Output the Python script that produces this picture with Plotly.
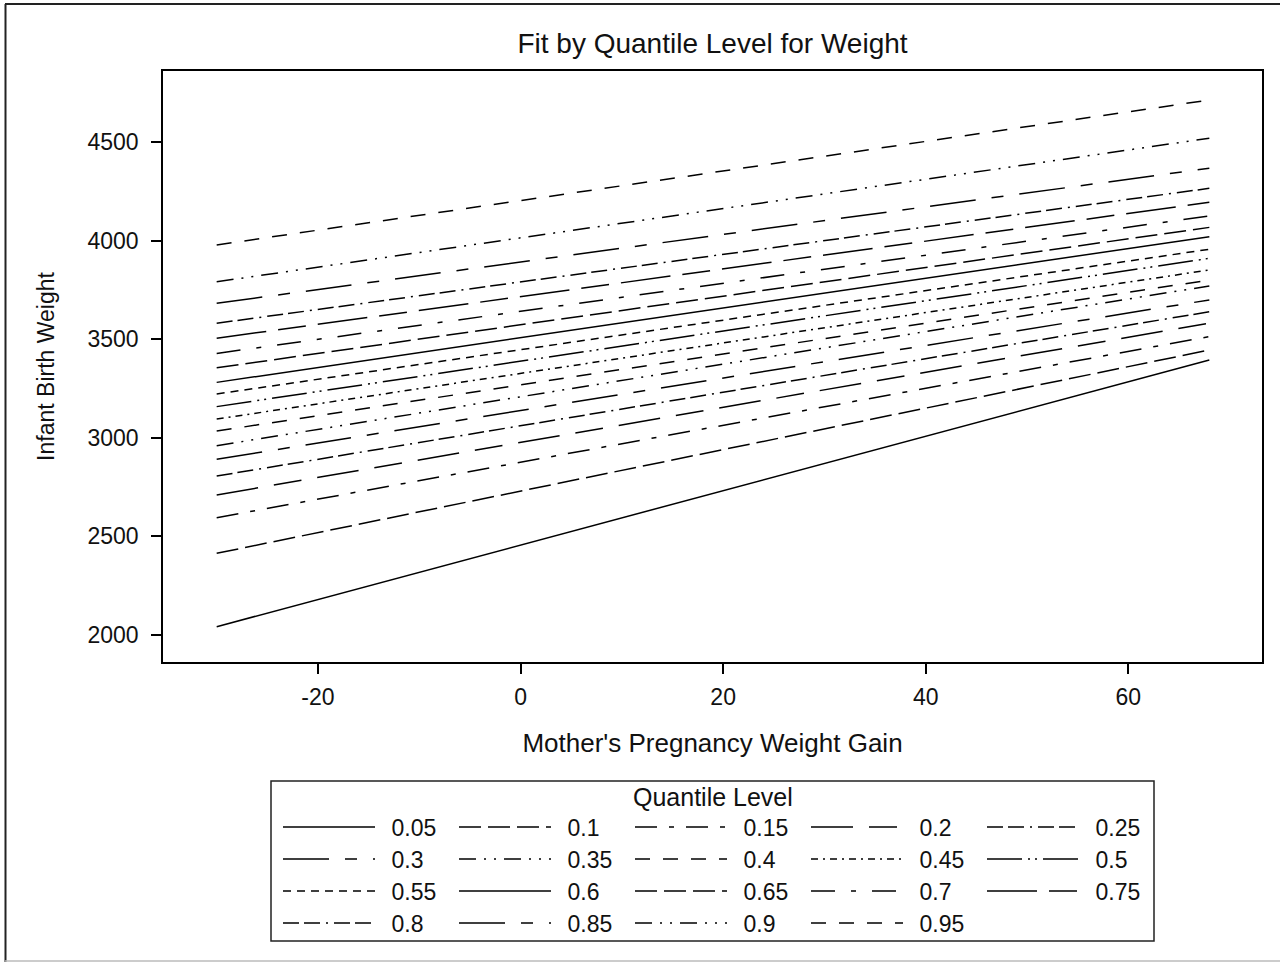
import plotly.graph_objects as go

# Quantile levels and the fitted birth weight at each end of the gain range
quantile_levels = ["0.05", "0.1", "0.15", "0.2", "0.25", "0.3", "0.35", "0.4", "0.45", "0.5",
                   "0.55", "0.6", "0.65", "0.7", "0.75", "0.8", "0.85", "0.9", "0.95"]
weight_gain = [-30, 68]
fit_at_low_gain = [2042, 2414, 2595, 2710, 2806, 2891, 2960, 3034, 3095, 3158,
                   3222, 3281, 3355, 3428, 3505, 3581, 3682, 3791, 3978]
fit_at_high_gain = [3394, 3445, 3513, 3581, 3639, 3699, 3770, 3800, 3851, 3910,
                    3956, 4020, 4067, 4125, 4194, 4265, 4367, 4519, 4713]

x_ticks = [-20, 0, 20, 40, 60]
y_ticks = [2000, 2500, 3000, 3500, 4000, 4500]

# Line patterns, one per quantile level
dash_styles = [
    "solid",
    "22px,7px",
    "22px,12px,5px,12px",
    "42px,16px,28px,16px",
    "16px,5px,16px,6px,2px,6px",
    "46px,16px,12px,16px",
    "17px,8px,2px,8px,2px,8px",
    "15px,13px",
    "7px,5px,2px,5px",
    "35px,6px,2px,5px,2px,6px",
    "8px,6px",
    "solid",
    "22px,7px",
    "24px,16px,5px,16px",
    "50px,12px,28px,12px",
    "16px,5px,16px,6px,2px,6px",
    "46px,16px,12px,16px",
    "17px,8px,2px,8px,2px,8px",
    "15px,13px",
]

FONT = "Liberation Sans, Arial, sans-serif"
INK = "#111111"

# Plot-area geometry in pixels (used to place legend rows and the frame)
W, H = 1280, 962
L, R, T, B = 163, 1262, 71, 662
PW, PH = R - L, B - T


def px_x(x):
    return (x - L) / PW


def px_y(y):
    return (B - y) / PH


legend_names = ["legend", "legend2", "legend3", "legend4"]

fig = go.Figure()
for i, q in enumerate(quantile_levels):
    fig.add_trace(go.Scatter(
        x=weight_gain,
        y=[fit_at_low_gain[i], fit_at_high_gain[i]],
        mode="lines",
        name="\u2002" + q,
        line=dict(color="black", width=1.5, dash=dash_styles[i]),
        legend=legend_names[i // 5],
        hoverinfo="skip",
    ))

row_centers = [827, 859, 891, 923]
legend_common = dict(
    orientation="h",
    x=px_x(278), xanchor="left",
    yanchor="middle",
    bgcolor="rgba(0,0,0,0)",
    borderwidth=0,
    itemwidth=92,
    entrywidth=69,
    entrywidthmode="pixels",
    font=dict(family=FONT, size=23, color=INK),
    itemclick=False, itemdoubleclick=False,
)
legend_layout = {}
for k, name in enumerate(legend_names):
    legend_layout[name] = dict(legend_common, y=px_y(row_centers[k]))

fig.update_layout(
    width=W, height=H,
    margin=dict(l=L, r=W - R, t=T, b=H - B, autoexpand=False),
    paper_bgcolor="white",
    plot_bgcolor="white",
    font=dict(family=FONT, size=23, color=INK),
    showlegend=True,
    title=dict(
        text="Fit by Quantile Level for Weight",
        x=0.5, xref="paper", xanchor="center",
        y=1 - 43 / H, yref="container", yanchor="middle",
        font=dict(family=FONT, size=28, color=INK),
    ),
    xaxis=dict(
        range=[-35.3, 73.2],
        tickvals=x_ticks,
        ticktext=[str(v) for v in x_ticks],
        ticks="outside", ticklen=10, tickwidth=1.5, tickcolor="black",
        ticklabelstandoff=4,
        showline=True, linewidth=1.5, linecolor="black", mirror=True,
        showgrid=False, zeroline=False,
        tickfont=dict(family=FONT, size=23, color=INK),
        title=dict(text="Mother's Pregnancy Weight Gain", standoff=24,
                   font=dict(family=FONT, size=26, color=INK)),
        automargin=False,
    ),
    yaxis=dict(
        range=[1863, 4860],
        tickvals=y_ticks,
        ticktext=[str(v) for v in y_ticks],
        ticks="outside", ticklen=10, tickwidth=1.5, tickcolor="black",
        ticklabelstandoff=8,
        showline=True, linewidth=1.5, linecolor="black", mirror=True,
        showgrid=False, zeroline=False,
        tickfont=dict(family=FONT, size=23, color=INK),
        title=dict(text="Infant Birth Weight", standoff=26,
                   font=dict(family=FONT, size=23, color=INK)),
        automargin=False,
    ),
    **legend_layout,
)

# Legend title and the box around all legend rows
fig.add_annotation(
    text="Quantile Level", xref="paper", yref="paper",
    x=0.5, y=px_y(797), xanchor="center", yanchor="middle",
    showarrow=False, font=dict(family=FONT, size=25, color=INK),
)
fig.add_shape(
    type="rect", xref="paper", yref="paper",
    x0=px_x(271), x1=px_x(1154), y0=px_y(941), y1=px_y(781),
    line=dict(color="#222222", width=1.5), fillcolor="rgba(0,0,0,0)", layer="above",
)

# Outer image frame: dark left/top edges, light bottom edge
fig.add_shape(type="line", xref="paper", yref="paper",
              x0=px_x(5.5), x1=px_x(5.5), y0=px_y(4), y1=px_y(962),
              line=dict(color="#222222", width=2))
fig.add_shape(type="line", xref="paper", yref="paper",
              x0=px_x(5), x1=px_x(1280), y0=px_y(4), y1=px_y(4),
              line=dict(color="#222222", width=2))
fig.add_shape(type="line", xref="paper", yref="paper",
              x0=px_x(5), x1=px_x(1280), y0=px_y(961), y1=px_y(961),
              line=dict(color="#bbbbbb", width=1.5))

fig.write_html("out.html")
